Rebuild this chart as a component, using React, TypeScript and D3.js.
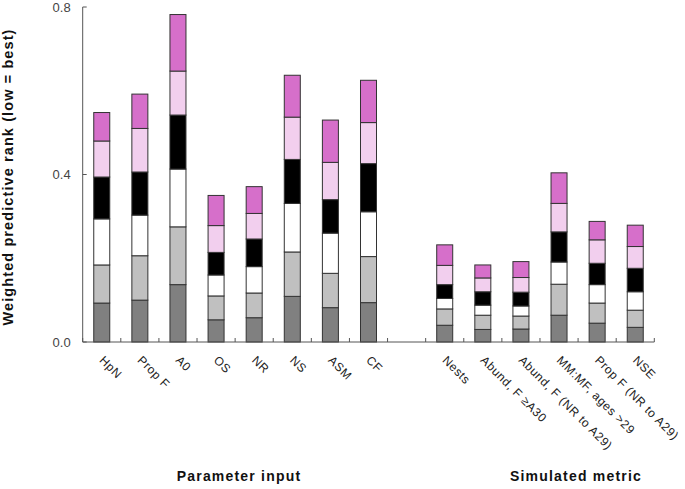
import React from "react";
import * as d3 from "d3";

const paramCategories = ["HpN", "Prop F", "A0", "OS", "NR", "NS", "ASM", "CF"];
const metricCategories = [
  "Nests",
  "Abund, F \u2265A30",
  "Abund, F (NR to A29)",
  "MM:MF, ages >29",
  "Prop F (NR to A29)",
  "NSE",
];
const categories = [...paramCategories, ...metricCategories];

// segment sizes, bottom (dark grey) to top (magenta)
const seg1 = [0.093, 0.1, 0.137, 0.053, 0.058, 0.109, 0.082, 0.094, 0.04, 0.03, 0.031, 0.064, 0.045, 0.035];
const seg2 = [0.091, 0.106, 0.138, 0.057, 0.059, 0.106, 0.082, 0.11, 0.039, 0.034, 0.031, 0.074, 0.048, 0.041];
const seg3 = [0.11, 0.097, 0.138, 0.05, 0.063, 0.116, 0.096, 0.107, 0.025, 0.024, 0.024, 0.053, 0.044, 0.044];
const seg4 = [0.1, 0.103, 0.129, 0.054, 0.066, 0.105, 0.08, 0.115, 0.033, 0.032, 0.033, 0.072, 0.051, 0.056];
const seg5 = [0.086, 0.104, 0.105, 0.064, 0.061, 0.101, 0.089, 0.098, 0.046, 0.033, 0.035, 0.068, 0.056, 0.052];
const seg6 = [0.068, 0.082, 0.135, 0.072, 0.064, 0.1, 0.101, 0.101, 0.049, 0.031, 0.038, 0.073, 0.044, 0.051];

const seriesKeys = ["s1", "s2", "s3", "s4", "s5", "s6"];
const seriesColors = ["#808080", "#c0c0c0", "#ffffff", "#000000", "#f2cfee", "#d66fca"];
const yTicks = [0, 0.4, 0.8];
const groupLabels = ["Parameter input", "Simulated metric"];

const W = 685;
const H = 489;
const GAP = "__gap__";

export default function App() {
  const domain = [...paramCategories, GAP, ...metricCategories];
  const x = d3.scaleBand<string>().domain(domain).range([82.7, 654.3]).paddingInner(0.58).paddingOuter(0.29);
  const y = d3.scaleLinear().domain([0, 0.8]).range([342, 7]);
  const step = x.step();
  const x0 = 82.7;

  const rows = categories.map((c, i) => ({
    cat: c,
    s1: seg1[i],
    s2: seg2[i],
    s3: seg3[i],
    s4: seg4[i],
    s5: seg5[i],
    s6: seg6[i],
  }));
  const stacked = d3.stack<any>().keys(seriesKeys)(rows);

  const font = "Arial, 'Liberation Sans', Helvetica, sans-serif";
  const axisColor = "#555";

  return (
    <svg
      width={W}
      height={H}
      style={{ position: "absolute", left: 0, top: 0, background: "#fff" }}
      fontFamily={font}
    >
      {/* bars */}
      {stacked.map((layer, li) => (
        <g key={li}>
          {layer.map((d, i) => (
            <rect
              key={i}
              x={x(d.data.cat) as number}
              y={y(d[1])}
              width={x.bandwidth()}
              height={y(d[0]) - y(d[1])}
              fill={seriesColors[li]}
              stroke="#333"
              strokeWidth={1}
            />
          ))}
        </g>
      ))}
      {/* y axis */}
      <line x1={x0} x2={x0} y1={y(0.8)} y2={y(0)} stroke={axisColor} strokeWidth={1} />
      {yTicks.map((t) => (
        <g key={t}>
          <line x1={x0} x2={x0 + 4} y1={y(t)} y2={y(t)} stroke={axisColor} />
          <text x={x0 - 12} y={y(t)} dy="0.35em" textAnchor="end" fontSize={13} fill="#444">
            {d3.format(".1f")(t)}
          </text>
        </g>
      ))}
      {/* x axis */}
      <line x1={x0} x2={x0 + step * domain.length} y1={y(0)} y2={y(0)} stroke={axisColor} strokeWidth={1} />
      {d3.range(domain.length + 1).map((i) => (
        <line key={i} x1={x0 + i * step} x2={x0 + i * step} y1={y(0)} y2={y(0) - 4} stroke={axisColor} />
      ))}
      {categories.map((c) => {
        const cx = (x(c) as number) + x.bandwidth() / 2;
        const ax = cx - 3;
        const ay = 361;
        return (
          <text
            key={c}
            x={ax}
            y={ay}
            transform={`rotate(45 ${ax} ${ay})`}
            fontSize={12}
            letterSpacing={0.6}
            fill="#222"
          >
            {c}
          </text>
        );
      })}
      {/* titles */}
      <text
        transform={`translate(13 177) rotate(-90)`}
        textAnchor="middle"
        fontSize={14.5}
        letterSpacing={1.1}
        fontWeight="bold"
        fill="#111"
      >
        Weighted predictive rank (low = best)
      </text>
      <text x={239} y={481} textAnchor="middle" fontSize={14} letterSpacing={1.2} fontWeight="bold" fill="#111">
        {groupLabels[0]}
      </text>
      <text x={576} y={481} textAnchor="middle" fontSize={14} letterSpacing={1.2} fontWeight="bold" fill="#111">
        {groupLabels[1]}
      </text>
    </svg>
  );
}
